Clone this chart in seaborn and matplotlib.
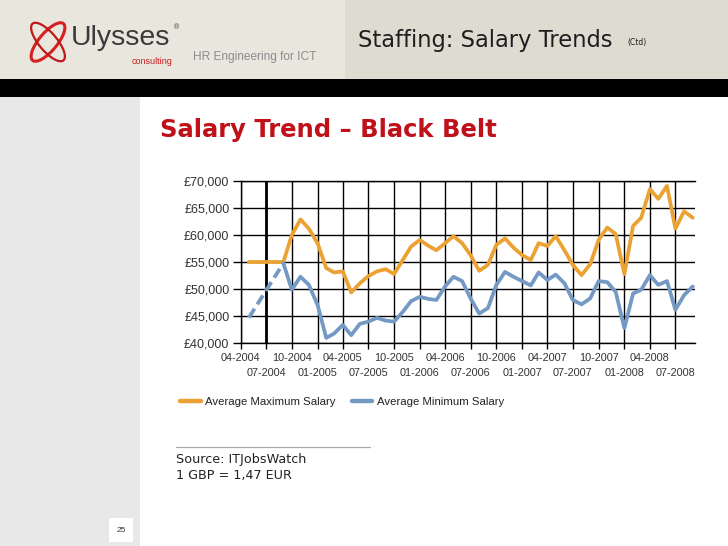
import numpy as np
import pandas as pd
import matplotlib
matplotlib.use("Agg")
import matplotlib.pyplot as plt
from matplotlib.patches import Rectangle, Ellipse
from matplotlib.lines import Line2D
from matplotlib.ticker import FuncFormatter, FixedLocator, FixedFormatter
import matplotlib.dates as mdates
import seaborn as sns

# ---------------- data ----------------
months = ["09-2004", "10-2004", "11-2004", "12-2004",
          "01-2005", "02-2005", "03-2005", "04-2005", "05-2005", "06-2005",
          "07-2005", "08-2005", "09-2005", "10-2005", "11-2005", "12-2005",
          "01-2006", "02-2006", "03-2006", "04-2006", "05-2006", "06-2006",
          "07-2006", "08-2006", "09-2006", "10-2006", "11-2006", "12-2006",
          "01-2007", "02-2007", "03-2007", "04-2007", "05-2007", "06-2007",
          "07-2007", "08-2007", "09-2007", "10-2007", "11-2007", "12-2007",
          "01-2008", "02-2008", "03-2008", "04-2008", "05-2008", "06-2008",
          "07-2008", "08-2008", "09-2008"]
avg_max = [55000, 60000, 62900, 61200,
           58500, 53900, 53100, 53300, 49400, 51100,
           52400, 53300, 53700, 52800, 55400, 57900,
           59100, 58000, 57200, 58500, 59800, 58500,
           56300, 53400, 54500, 58200, 59400, 57700,
           56300, 55400, 58500, 58000, 59800, 57200,
           54500, 52600, 54600, 59100, 61400, 60200,
           52800, 61700, 63200, 68500, 66700, 69100,
           61200, 64400, 63200]
avg_min = [54800, 49900, 52300, 50800,
           47100, 41000, 41800, 43400, 41500, 43600,
           44000, 44700, 44200, 44000, 45800, 47800,
           48600, 48200, 48000, 50500, 52300, 51500,
           48300, 45500, 46500, 50800, 53200, 52300,
           51500, 50700, 53100, 51700, 52700, 51100,
           48000, 47200, 48300, 51500, 51300, 49500,
           42800, 49200, 49900, 52600, 50800, 51500,
           46200, 48900, 50500]
# early period (sparse data)
early_months = ["05-2004", "09-2004"]
early_max = [55000, 55000]
early_min = [44750, 54800]

tick_labels = ["04-2004", "07-2004", "10-2004", "01-2005", "04-2005", "07-2005",
               "10-2005", "01-2006", "04-2006", "07-2006", "10-2006", "01-2007",
               "04-2007", "07-2007", "10-2007", "01-2008", "04-2008", "07-2008"]
y_ticks = [40000, 45000, 50000, 55000, 60000, 65000, 70000]
series_names = ["Average Maximum Salary", "Average Minimum Salary"]

ORANGE = "#EBA232"
BLUE = "#7399C4"

# ---------------- figure ----------------
sns.set_theme(style="white")
plt.rcParams["font.family"] = ["Liberation Sans", "DejaVu Sans"]

W, H = 728, 546
fig = plt.figure(figsize=(W / 100, H / 100), dpi=100)
fig.patch.set_facecolor("white")

def px(x, y):
    return x / W, 1 - y / H

# background slide shapes
bg = fig.add_axes([0, 0, 1, 1])
bg.set_xlim(0, W)
bg.set_ylim(H, 0)
bg.axis("off")
bg.add_patch(Rectangle((0, 0), 345, 79, color="#E9E6DD", lw=0))
bg.add_patch(Rectangle((345, 0), W - 345, 79, color="#DEDBD1", lw=0))
bg.add_patch(Rectangle((0, 79), W, 18, color="black", lw=0))
bg.add_patch(Rectangle((0, 97), 140, H - 97, color="#E8E8E8", lw=0))
bg.add_patch(Rectangle((109, 518), 24, 24, color="white", lw=0))
bg.text(121, 530, "25", fontsize=6, ha="center", va="center", color="#333333")

# logo
bg.add_patch(Ellipse((48, 42), 48, 18, angle=-50, fill=False, ec="#D42020", lw=2.2))
bg.add_patch(Ellipse((48, 42), 48, 18, angle=50, fill=False, ec="#C01818", lw=1.6))
bg.text(71, 38, "Ulysses", fontsize=20.5, ha="left", va="center", color="#3A3A3A")
bg.text(174, 28, "®", fontsize=5, ha="left", va="center", color="#3A3A3A")
bg.text(172, 61, "consulting", fontsize=6.5, ha="right", va="center", color="#C81E1E")
bg.text(193, 57, "HR Engineering for ICT", fontsize=8.6, ha="left", va="center",
        color="#8C8C8C")

# header title
bg.text(358, 40, "Staffing: Salary Trends", fontsize=16.3, ha="left", va="center",
        color="#1E1E1E", family=["DejaVu Sans"])
bg.text(627, 42, "(Ctd)", fontsize=5.5, ha="left", va="center", color="#1E1E1E",
        family=["DejaVu Sans"])

# slide title
bg.text(160, 130, "Salary Trend \u2013 Black Belt", fontsize=17.5, fontweight="bold",
        ha="left", va="center", color="#C0101A", family=["DejaVu Sans"])

# source
bg.plot([176, 370], [447, 447], color="#AAAAAA", lw=0.9)
bg.text(176, 460, "Source: ITJobsWatch", fontsize=9.2, ha="left", va="center",
        color="#222222", family=["DejaVu Sans"])
bg.text(176, 475, "1 GBP = 1,47 EUR", fontsize=9.2, ha="left", va="center",
        color="#222222", family=["DejaVu Sans"])

# ---------------- chart ----------------
L, R, T, B = 240.5, 695, 181, 343.3
ax = fig.add_axes([L / W, 1 - B / H, (R - L) / W, (B - T) / H])
ax.set_facecolor("none")

df = pd.DataFrame({
    "month": pd.to_datetime(months + months, format="%m-%Y"),
    "salary": avg_max + avg_min,
    "series": [series_names[0]] * len(months) + [series_names[1]] * len(months),
})
early_df = pd.DataFrame({
    "month": pd.to_datetime(early_months + early_months, format="%m-%Y"),
    "salary": early_max + early_min,
    "series": [series_names[0]] * 2 + [series_names[1]] * 2,
})
palette = {series_names[0]: ORANGE, series_names[1]: BLUE}

sns.lineplot(data=early_df[early_df.series == series_names[0]], x="month", y="salary",
             color=ORANGE, lw=2.7, ax=ax, legend=False)
sns.lineplot(data=early_df[early_df.series == series_names[1]], x="month", y="salary",
             color=BLUE, lw=2.7, ax=ax, legend=False, linestyle=(0, (2.8, 1.4)))
sns.lineplot(data=df, x="month", y="salary", hue="series", palette=palette,
             lw=2.7, ax=ax, legend=False)

tick_dates = pd.to_datetime(tick_labels, format="%m-%Y")
tick_nums = mdates.date2num(tick_dates)
ax.set_xlim(pd.Timestamp("2004-04-01"), pd.Timestamp("2008-09-09"))
ax.set_ylim(y_ticks[0], y_ticks[-1])
ax.xaxis.set_major_locator(FixedLocator(tick_nums[0::2]))
ax.xaxis.set_major_formatter(FixedFormatter(tick_labels[0::2]))
ax.xaxis.set_minor_locator(FixedLocator(tick_nums[1::2]))
ax.xaxis.set_minor_formatter(FixedFormatter(tick_labels[1::2]))
ax.set_yticks(y_ticks)
ax.yaxis.set_major_formatter(FuncFormatter(lambda v, p: "\u00a3{:,.0f}".format(v)))
ax.tick_params(axis="y", labelsize=9, labelcolor="#333333", length=6, width=1,
               direction="out", pad=2, color="black", left=True)
ax.tick_params(axis="x", which="major", labelsize=7.8, labelcolor="#333333", length=4,
               width=1, direction="out", pad=3, color="black", bottom=True)
ax.tick_params(axis="x", which="minor", labelsize=7.8, labelcolor="#333333", length=4,
               width=1, direction="out", pad=14, color="black", bottom=True)
ax.grid(True, which="both", axis="x", color="black", lw=1.0)
ax.grid(True, which="major", axis="y", color="black", lw=1.0)
ax.axvline(tick_dates[1], color="black", lw=2.0, zorder=0.5)
ax.set_axisbelow(True)
for s in ["left", "bottom", "top"]:
    ax.spines[s].set_color("black")
    ax.spines[s].set_linewidth(1.0)
ax.spines["right"].set_visible(False)
ax.set_xlabel("")
ax.set_ylabel("")

# legend
handles = [Line2D([], [], color=ORANGE, lw=3.2), Line2D([], [], color=BLUE, lw=3.2)]
fig.legend(handles, series_names, loc="center left", bbox_to_anchor=px(170, 402),
           ncol=2, frameon=False, fontsize=8.2, handlelength=1.8, handletextpad=0.4,
           columnspacing=1.4, labelcolor="#222222")

fig.savefig("out.png", dpi=100)
